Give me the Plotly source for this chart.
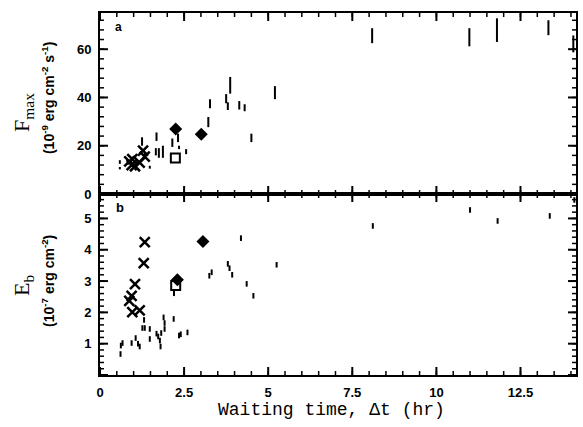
import numpy as np
import plotly.graph_objects as go

# ---------------- data ----------------
# Panel a: F_max ranges (vertical bars)
fmax_bar_x = [0.59, 0.59, 1.25, 1.48, 1.33, 1.66, 1.75, 1.87, 1.68, 2.15, 2.32, 2.35, 2.56,
              3.22, 3.27, 3.75, 3.80, 3.87, 4.14, 4.30, 4.50, 5.20,
              8.09, 10.98, 11.80, 13.33, 14.07]
fmax_bar_lo = [12.5, 10.2, 20.0, 10.5, 15.0, 16.0, 15.0, 15.0, 22.0, 19.5, 21.5, 18.6, 16.5,
               27.7, 35.5, 37.6, 34.8, 41.6, 35.0, 34.3, 21.5, 39.3,
               62.5, 61.2, 63.0, 65.8, 58.7]
fmax_bar_hi = [14.0, 11.2, 23.5, 11.7, 17.0, 19.0, 19.0, 20.0, 25.5, 23.0, 25.0, 20.0, 18.6,
               31.9, 39.3, 41.4, 38.0, 48.5, 38.5, 37.2, 25.0, 44.7,
               68.7, 68.7, 72.8, 72.0, 65.7]
fmax_cross_x = [0.87, 0.94, 0.96, 1.04, 1.18, 1.28, 1.33]
fmax_cross_y = [13.5, 12.0, 14.5, 11.5, 13.0, 18.0, 15.5]
fmax_diam_x = [2.25, 3.01]
fmax_diam_y = [26.9, 24.8]
fmax_sq_x = [2.24]
fmax_sq_y = [14.9]

# Panel b: E_b values
eb_pt_x = [0.61, 0.62, 0.67, 0.94, 1.06, 1.13, 1.18, 1.26, 1.31, 1.33, 1.48, 1.48, 1.68, 1.73,
           1.78, 1.80, 1.82, 1.89, 1.92, 1.92, 2.19, 2.20, 2.35, 2.40, 2.60,
           3.25, 3.32, 3.80, 3.85, 3.93, 4.19, 4.36, 4.56, 5.25,
           8.11, 11.00, 11.82, 13.37, 14.10]
eb_pt_y = [0.67, 0.94, 1.02, 1.02, 1.18, 1.00, 0.91, 1.50, 1.76, 1.50, 1.47, 1.15, 1.32, 1.23,
           1.10, 0.91, 1.34, 1.84, 1.66, 1.47, 1.79, 2.61, 1.26, 1.30, 1.36,
           3.17, 3.28, 3.55, 3.41, 3.20, 4.37, 2.91, 2.53, 3.52,
           4.76, 5.27, 4.92, 5.08, 5.59]
eb_cross_x = [1.33, 1.30, 1.04, 0.94, 0.87, 0.96, 1.18]
eb_cross_y = [4.24, 3.57, 2.90, 2.53, 2.37, 2.01, 2.06]
eb_diam_x = [3.06, 2.30]
eb_diam_y = [4.26, 3.04]
eb_sq_x = [2.25]
eb_sq_y = [2.86]

x_range = [0, 14.15]
fmax_range = [0, 75]
eb_range = [0, 5.78]
x_tick_step, x_minor_step = 2.5, 0.5
fmax_tick_step, fmax_minor_step = 20, 4
eb_tick_step, eb_minor_step = 1, 0.2

W, H = 583, 427
M = dict(l=100, r=5, t=13, b=52)
PLOT_W = W - M["l"] - M["r"]
PANEL_H = (H - M["t"] - M["b"]) / 2

# ---------------- figure ----------------
fig = go.Figure()

seg_x, seg_y = [], []
for xv, lo, hi in zip(fmax_bar_x, fmax_bar_lo, fmax_bar_hi):
    seg_x += [xv, xv, None]
    seg_y += [lo, hi, None]
fig.add_trace(go.Scatter(x=seg_x, y=seg_y, mode="lines", xaxis="x", yaxis="y",
                         line=dict(color="black", width=2), showlegend=False))
fig.add_trace(go.Scatter(x=fmax_cross_x, y=fmax_cross_y, mode="markers", xaxis="x", yaxis="y",
                         marker=dict(symbol="x-thin-open", size=10, color="black",
                                     line=dict(width=2.5, color="black")), showlegend=False))
fig.add_trace(go.Scatter(x=fmax_diam_x, y=fmax_diam_y, mode="markers", xaxis="x", yaxis="y",
                         marker=dict(symbol="diamond", size=10, color="black"), showlegend=False))
fig.add_trace(go.Scatter(x=fmax_sq_x, y=fmax_sq_y, mode="markers", xaxis="x", yaxis="y",
                         marker=dict(symbol="square-open", size=9, color="black",
                                     line=dict(width=2, color="black")), showlegend=False))

fig.add_trace(go.Scatter(x=eb_pt_x, y=eb_pt_y, mode="markers", xaxis="x2", yaxis="y2",
                         marker=dict(symbol="line-ns", size=4, color="black",
                                     line=dict(width=2, color="black")), showlegend=False))
fig.add_trace(go.Scatter(x=eb_cross_x, y=eb_cross_y, mode="markers", xaxis="x2", yaxis="y2",
                         marker=dict(symbol="x-thin-open", size=10, color="black",
                                     line=dict(width=2.5, color="black")), showlegend=False))
fig.add_trace(go.Scatter(x=eb_diam_x, y=eb_diam_y, mode="markers", xaxis="x2", yaxis="y2",
                         marker=dict(symbol="diamond", size=10, color="black"), showlegend=False))
fig.add_trace(go.Scatter(x=eb_sq_x, y=eb_sq_y, mode="markers", xaxis="x2", yaxis="y2",
                         marker=dict(symbol="square-open", size=9, color="black",
                                     line=dict(width=2, color="black")), showlegend=False))

# ---- inward tick marks drawn as short line segments along the frame ----
def tick_lines(xa, ya, xr, yr, xstep, ystep, length_px, width):
    dx = length_px * (xr[1] - xr[0]) / PLOT_W
    dy = length_px * (yr[1] - yr[0]) / PANEL_H
    xt = np.arange(xr[0], xr[1] + 1e-9, xstep)
    yt = np.arange(yr[0], yr[1] + 1e-9, ystep)
    tx, ty = [], []
    for xv in xt:
        tx += [xv, xv, None, xv, xv, None]
        ty += [yr[0], yr[0] + dy, None, yr[1], yr[1] - dy, None]
    for yv in yt:
        tx += [xr[0], xr[0] + dx, None, xr[1], xr[1] - dx, None]
        ty += [yv, yv, None, yv, yv, None]
    fig.add_trace(go.Scatter(x=tx, y=ty, mode="lines", xaxis=xa, yaxis=ya,
                             line=dict(color="black", width=width),
                             showlegend=False, hoverinfo="skip"))

tick_lines("x", "y", x_range, fmax_range, x_tick_step, fmax_tick_step, 8, 2)
tick_lines("x", "y", x_range, fmax_range, x_minor_step, fmax_minor_step, 4, 1.5)
tick_lines("x2", "y2", x_range, eb_range, x_tick_step, eb_tick_step, 8, 2)
tick_lines("x2", "y2", x_range, eb_range, x_minor_step, eb_minor_step, 4, 1.5)

tickfont = dict(family="Liberation Sans", size=13, color="black", weight="bold")
common = dict(showline=True, linecolor="black", linewidth=2, mirror=True,
              ticks="", tickmode="linear", tick0=0,
              showgrid=False, zeroline=False, tickfont=tickfont)

fig.update_layout(
    width=W, height=H,
    margin=M,
    paper_bgcolor="white", plot_bgcolor="white",
    xaxis=dict(common, domain=[0, 1], anchor="y", range=x_range, dtick=x_tick_step,
               showticklabels=False),
    yaxis=dict(common, domain=[0.5, 1], anchor="x", range=fmax_range, dtick=fmax_tick_step,
               ticklabelstandoff=4),
    xaxis2=dict(common, domain=[0, 1], anchor="y2", range=x_range, dtick=x_tick_step,
                ticklabelstandoff=4),
    yaxis2=dict(common, domain=[0, 0.5], anchor="x2", range=eb_range, dtick=eb_tick_step,
                labelalias={0: " "}, ticklabelstandoff=4),
)

ann = [
    dict(text="F<sub>max</sub>", x=0, xshift=-77, y=0.724, textangle=-90,
         font=dict(family="Liberation Serif", size=22, color="black")),
    dict(text="(10<sup>-9</sup> erg cm<sup>-2</sup> s<sup>-1</sup>)", x=0, xshift=-52, y=0.765,
         textangle=-90, font=dict(family="Liberation Sans", size=14, color="black", weight="bold")),
    dict(text="E<sub>b</sub>", x=0, xshift=-77, y=0.246, textangle=-90,
         font=dict(family="Liberation Serif", size=22, color="black")),
    dict(text="(10<sup>-7</sup> erg cm<sup>-2</sup>)", x=0, xshift=-52, y=0.26,
         textangle=-90, font=dict(family="Liberation Sans", size=14, color="black", weight="bold")),
    dict(text="Waiting time, \u0394t (hr)", x=0.487, y=-0.097,
         font=dict(family="Liberation Mono", size=18, color="black")),
    dict(text="a", x=0.038, y=0.961,
         font=dict(family="Liberation Sans", size=12, color="black", weight="bold")),
    dict(text="b", x=0.042, y=0.464,
         font=dict(family="Liberation Sans", size=13, color="black", weight="bold")),
]
for a in ann:
    fig.add_annotation(xref="paper", yref="paper", showarrow=False,
                       xanchor="center", yanchor="middle", **a)

fig.write_html("out.html")
